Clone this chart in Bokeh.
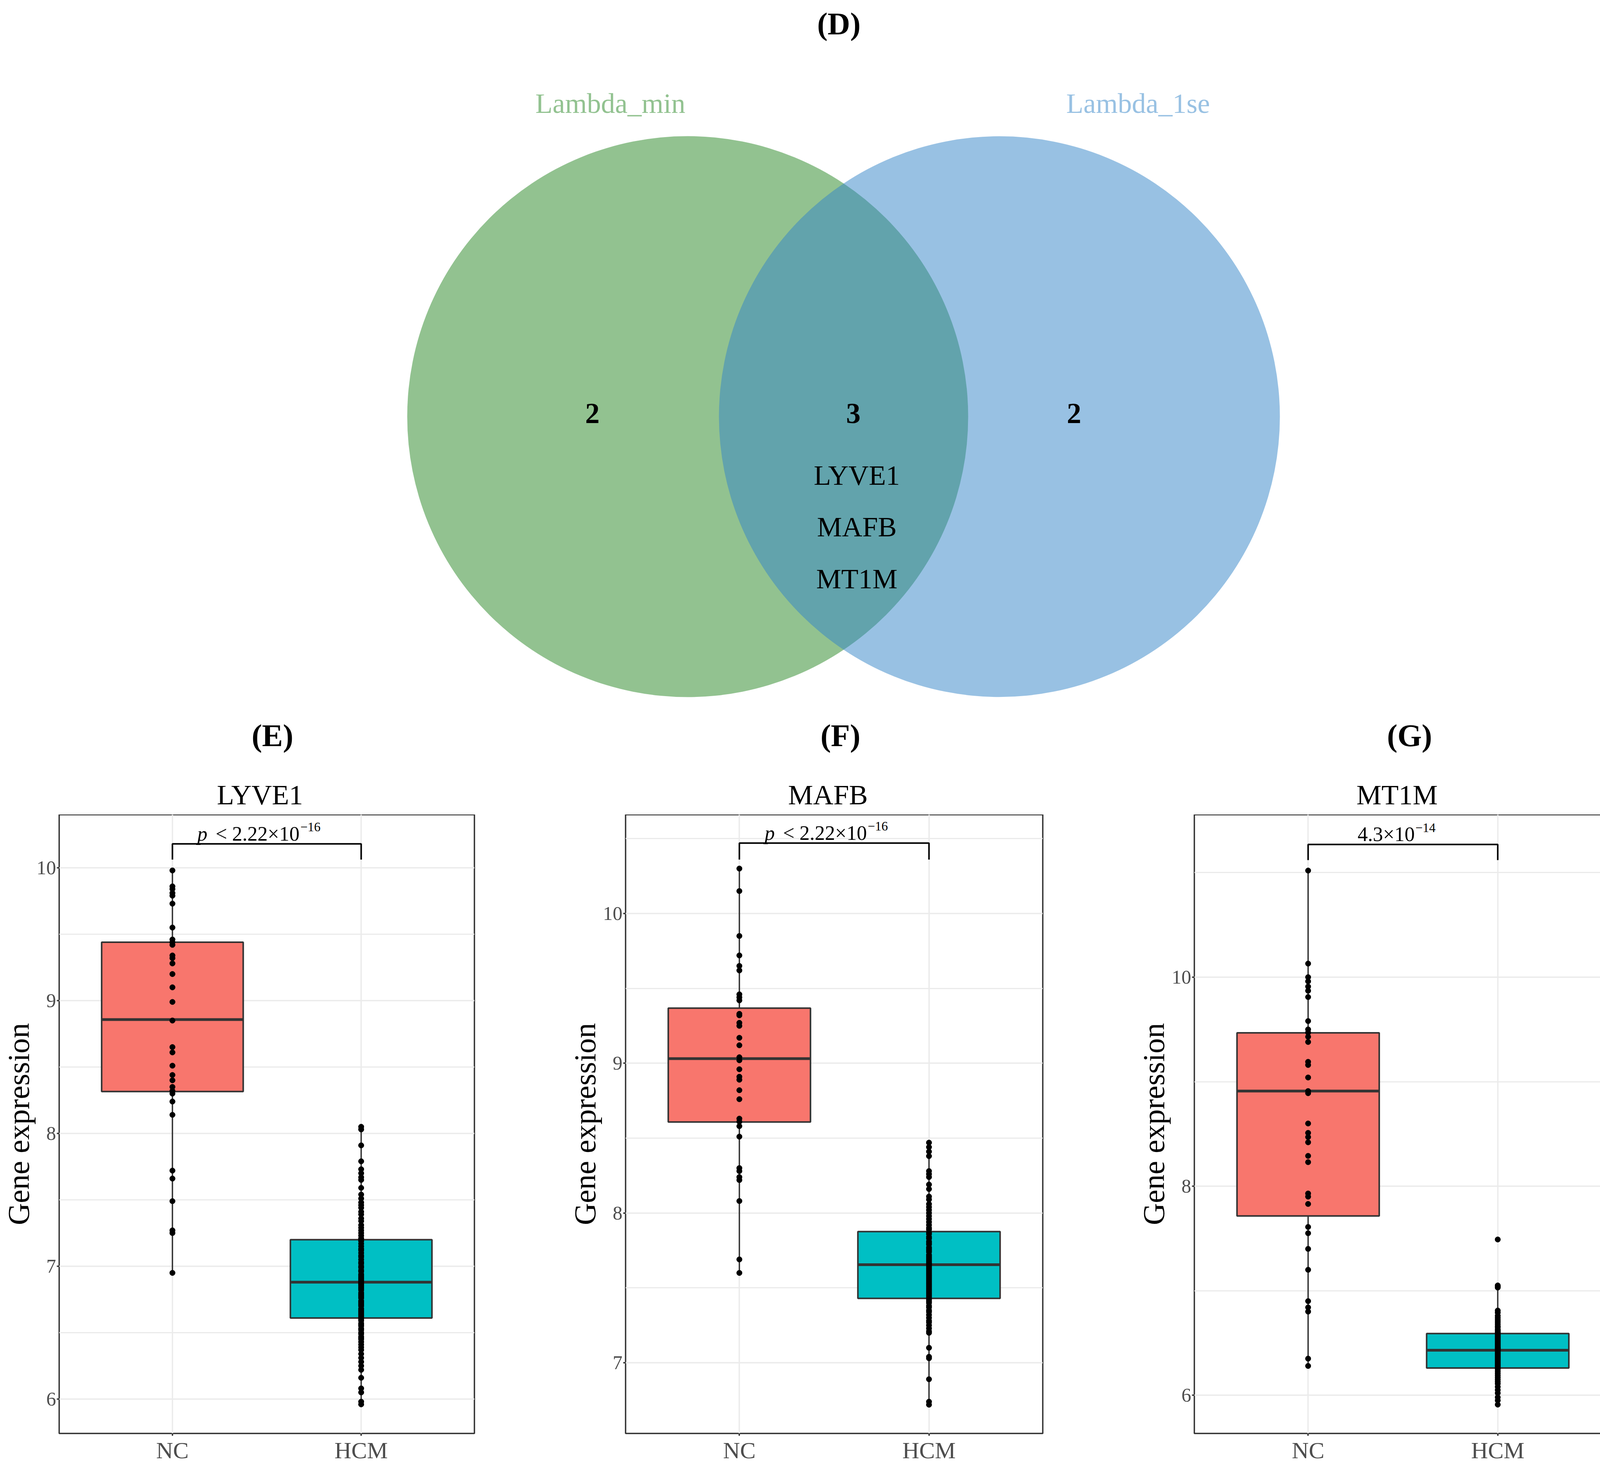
from bokeh.plotting import figure
from bokeh.layouts import column, row
from bokeh.models import Range1d, FixedTicker, Label
from bokeh.core.properties import value
from bokeh.embed import file_html
from bokeh.resources import INLINE

FONT = "Liberation Serif"

# ---------------- Venn data ----------------
set_names = ["Lambda_min", "Lambda_1se"]
set_colors = ["#258521", "#3183C7"]
region_counts = [2, 3, 2]          # only min, shared, only 1se
shared_genes = ["LYVE1", "MAFB", "MT1M"]
panel_labels = ["(E)", "(F)", "(G)"]

# ---------------- Box plot data ----------------
groups = ["NC", "HCM"]
box_colors = ["#F8766D", "#00BFC4"]

lyve1_nc = [9.98, 9.86, 9.84, 9.81, 9.79, 9.73, 9.55, 9.46, 9.44, 9.42, 9.34, 9.32, 9.28,
            9.20, 9.10, 8.99, 8.85, 8.65, 8.61, 8.51, 8.44, 8.40, 8.35, 8.32, 8.30, 8.24,
            8.14, 7.72, 7.66, 7.49, 7.27, 7.25, 6.95]
lyve1_hcm = [8.05, 8.03, 7.91, 7.79, 7.73, 7.70, 7.67, 7.65, 7.59, 7.54, 7.51, 7.48, 7.46,
             7.44, 7.41, 7.39, 7.36, 7.34, 7.31, 7.29, 7.27, 7.25, 7.23, 7.21, 7.20, 7.19,
             7.17, 7.15, 7.13, 7.12, 7.10, 7.08, 7.07, 7.05, 7.03, 7.02, 7.00, 6.99, 6.97,
             6.96, 6.94, 6.93, 6.92, 6.91, 6.90, 6.89, 6.88, 6.87, 6.87, 6.86, 6.85, 6.84,
             6.83, 6.82, 6.80, 6.79, 6.78, 6.77, 6.76, 6.74, 6.73, 6.72, 6.71, 6.70, 6.68,
             6.67, 6.66, 6.65, 6.64, 6.63, 6.62, 6.61, 6.60, 6.59, 6.57, 6.56, 6.55, 6.53,
             6.52, 6.50, 6.49, 6.47, 6.46, 6.45, 6.43, 6.41, 6.39, 6.37, 6.34, 6.31, 6.28,
             6.25, 6.22, 6.16, 6.08, 6.05, 5.98, 5.96]
lyve1_lo = [6.95, 5.97]
lyve1_q1 = [8.315, 6.61]
lyve1_med = [8.857, 6.88]
lyve1_q3 = [9.44, 7.20]
lyve1_hi = [9.98, 8.04]

mafb_nc = [10.30, 10.15, 9.85, 9.72, 9.65, 9.62, 9.46, 9.44, 9.42, 9.33, 9.32, 9.27, 9.25,
           9.17, 9.12, 9.04, 9.02, 8.96, 8.91, 8.89, 8.82, 8.76, 8.63, 8.61, 8.58, 8.51,
           8.30, 8.28, 8.24, 8.22, 8.08, 7.69, 7.60]
mafb_hcm = [8.47, 8.44, 8.41, 8.38, 8.28, 8.26, 8.24, 8.19, 8.16, 8.11, 8.09, 8.06, 8.04,
            8.02, 8.00, 7.98, 7.96, 7.94, 7.92, 7.90, 7.89, 7.87, 7.86, 7.84, 7.83, 7.81,
            7.80, 7.79, 7.77, 7.76, 7.75, 7.74, 7.72, 7.71, 7.70, 7.69, 7.68, 7.67, 7.66,
            7.66, 7.65, 7.64, 7.63, 7.62, 7.61, 7.60, 7.59, 7.58, 7.57, 7.56, 7.55, 7.54,
            7.53, 7.52, 7.51, 7.50, 7.49, 7.48, 7.47, 7.46, 7.45, 7.44, 7.43, 7.42, 7.41,
            7.40, 7.38, 7.37, 7.35, 7.34, 7.32, 7.30, 7.28, 7.27, 7.25, 7.23, 7.21, 7.20,
            7.10, 7.04, 7.03, 6.89, 6.74, 6.72]
mafb_lo = [7.60, 6.73]
mafb_q1 = [8.608, 7.43]
mafb_med = [9.031, 7.655]
mafb_q3 = [9.368, 7.876]
mafb_hi = [10.295, 8.47]

mt1m_nc = [11.02, 10.13, 10.00, 9.96, 9.91, 9.87, 9.81, 9.58, 9.50, 9.47, 9.43, 9.38, 9.19,
           9.16, 9.04, 8.91, 8.89, 8.60, 8.51, 8.47, 8.42, 8.29, 8.23, 7.93, 7.90, 7.83,
           7.61, 7.55, 7.40, 7.20, 6.90, 6.84, 6.80, 6.35, 6.28]
mt1m_hcm = [7.49, 7.05, 7.04, 7.03, 6.81, 6.79, 6.76, 6.74, 6.72, 6.70, 6.68, 6.66, 6.65,
            6.63, 6.62, 6.61, 6.60, 6.59, 6.58, 6.57, 6.56, 6.55, 6.54, 6.53, 6.52, 6.51,
            6.50, 6.49, 6.48, 6.47, 6.46, 6.45, 6.45, 6.44, 6.43, 6.43, 6.42, 6.41, 6.40,
            6.39, 6.38, 6.37, 6.36, 6.35, 6.34, 6.33, 6.32, 6.31, 6.30, 6.29, 6.28, 6.27,
            6.26, 6.25, 6.23, 6.21, 6.19, 6.17, 6.15, 6.13, 6.11, 6.08, 6.05, 6.02, 5.98,
            5.95, 5.91]
mt1m_lo = [6.28, 5.91]
mt1m_q1 = [7.715, 6.26]
mt1m_med = [8.91, 6.43]
mt1m_q3 = [9.467, 6.59]
mt1m_hi = [11.02, 7.05]

p_base = ["< 2.22×10", "< 2.22×10", "4.3×10"]
p_exp = ["−16", "−16", "−14"]

# ---------------- Top figure: Venn + panel headers (pixel space) ----------------
W = 4141
VH = 2085
v = figure(width=W, height=VH, x_range=Range1d(0, W), y_range=Range1d(VH, 0),
           output_backend="svg", toolbar_location=None, min_border=0, title_location=None,
           x_axis_location=None, y_axis_location=None)
v.grid.visible = False
v.outline_line_color = None
R = 718
cx = [1760, 2558]
cy = 1066
for i in range(2):
    v.ellipse(x=[cx[i]], y=[cy], width=2 * R, height=2 * R,
              fill_color=set_colors[i], fill_alpha=0.5, line_color=None)
v.text(x=[1562, 2913], y=[264, 264], text=set_names, text_color=set_colors, text_alpha=0.5,
       text_font=value(FONT), text_font_size="72px", text_align="center", text_baseline="middle")
v.text(x=[1516, 2184, 2749], y=[1058] * 3, text=[str(c) for c in region_counts],
       text_font=value(FONT), text_font_size="74px", text_font_style="bold",
       text_align="center", text_baseline="middle", text_color="black")
v.text(x=[2193] * 3, y=[1216, 1348, 1481], text=shared_genes, text_font=value(FONT),
       text_font_size="72px", text_align="center", text_baseline="middle", text_color="black")
v.text(x=[2147], y=[60], text=["(D)"], text_font=value(FONT), text_font_size="80px",
       text_font_style="bold", text_align="center", text_baseline="middle", text_color="black")
# panel headers
v.text(x=[697, 2151, 3608], y=[1882] * 3, text=panel_labels, text_font=value(FONT),
       text_font_size="80px", text_font_style="bold", text_align="center",
       text_baseline="middle", text_color="black")
v.text(x=[665, 2119, 3576], y=[2034] * 3, text=shared_genes, text_font=value(FONT),
       text_font_size="72px", text_align="center", text_baseline="middle", text_color="black")

FH = 1584  # frame height in px


def box_panel(nc, hcm, lo, q1, med, q3, hi, yr, ticks, minor, bracket, base, exp,
              italic_p, lb, rb):
    fw = 1068
    p = figure(width=lb + fw + rb, height=1680, x_range=Range1d(0.4, 2.6), y_range=Range1d(*yr),
               output_backend="svg", toolbar_location=None, title_location=None,
               min_border_left=lb, min_border_right=rb, min_border_top=0, min_border_bottom=96)
    p.outline_line_color = "#333333"
    p.outline_line_width = 3.5
    p.xaxis.ticker = FixedTicker(ticks=[1, 2])
    p.xaxis.major_label_overrides = {1: groups[0], 2: groups[1]}
    p.yaxis.ticker = FixedTicker(ticks=ticks, minor_ticks=minor)
    for ax in (p.xaxis, p.yaxis):
        ax.axis_line_color = None
        ax.major_tick_line_color = "#333333"
        ax.major_tick_line_width = 3.5
        ax.major_tick_out = 6
        ax.major_tick_in = 0
        ax.minor_tick_line_color = None
        ax.major_label_text_font = FONT
        ax.major_label_text_color = "#4d4d4d"
    p.yaxis.major_label_text_font_size = "50px"
    p.yaxis.major_label_standoff = 2
    p.xaxis.major_label_text_font_size = "60px"
    p.xaxis.major_label_standoff = 4
    p.yaxis.axis_label = "Gene expression"
    p.yaxis.axis_label_text_font = FONT
    p.yaxis.axis_label_text_font_size = "78px"
    p.yaxis.axis_label_text_font_style = "normal"
    p.yaxis.axis_label_text_color = "black"
    p.yaxis.axis_label_standoff = 0
    p.xgrid.grid_line_color = "#ebebeb"
    p.xgrid.grid_line_width = 3.5
    p.ygrid.grid_line_color = "#ebebeb"
    p.ygrid.grid_line_width = 3.5
    p.ygrid.minor_grid_line_color = "#ebebeb"
    p.ygrid.minor_grid_line_width = 3
    xs = [1, 2]
    p.segment(x0=xs, y0=lo, x1=xs, y1=hi, line_color="#333333", line_width=3.5)
    p.vbar(x=xs, width=0.75, bottom=q1, top=q3, fill_color=box_colors,
           line_color="#333333", line_width=4)
    p.segment(x0=[x - 0.375 for x in xs], y0=med, x1=[x + 0.375 for x in xs], y1=med,
              line_color="#333333", line_width=7)
    p.scatter(x=[1] * len(nc), y=nc, size=14, color="black")
    p.scatter(x=[2] * len(hcm), y=hcm, size=14, color="black")
    by, bt = bracket
    p.line(x=[1, 1, 2, 2], y=[bt, by, by, bt], line_color="black", line_width=4)
    ppu = FH / (yr[1] - yr[0])          # pixels per data unit
    y_base = by + 26 / ppu
    y_sup = by + 43 / ppu
    common = dict(text_font=FONT, text_align="left", text_baseline="alphabetic",
                  text_color="black")
    items = []
    if italic_p:
        items.append(Label(x=1.5, y=y_base, text="p", x_offset=-178, text_font_size="52px",
                           text_font_style="italic", **common))
        items.append(Label(x=1.5, y=y_base, text=base, x_offset=-131, text_font_size="52px",
                           **common))
        items.append(Label(x=1.5, y=y_sup, text=exp, x_offset=86, text_font_size="33px",
                           **common))
    else:
        items.append(Label(x=1.5, y=y_base, text=base, x_offset=-116, text_font_size="52px",
                           **common))
        items.append(Label(x=1.5, y=y_sup, text=exp, x_offset=32, text_font_size="33px",
                           **common))
    for it in items:
        p.add_layout(it)
    return p


pe = box_panel(lyve1_nc, lyve1_hcm, lyve1_lo, lyve1_q1, lyve1_med, lyve1_q3, lyve1_hi,
               (5.741, 10.40), [6, 7, 8, 9, 10], [6.5, 7.5, 8.5, 9.5],
               (10.18, 10.062), p_base[0], p_exp[0], True, 146, 166)
pf = box_panel(mafb_nc, mafb_hcm, mafb_lo, mafb_q1, mafb_med, mafb_q3, mafb_hi,
               (6.528, 10.66), [7, 8, 9, 10], [7.5, 8.5, 9.5, 10.5],
               (10.47, 10.36), p_base[1], p_exp[1], True, 221, 91)
pg = box_panel(mt1m_nc, mt1m_hcm, mt1m_lo, mt1m_q1, mt1m_med, mt1m_q3, mt1m_hi,
               (5.634, 11.555), [6, 8, 10], [7, 9, 11],
               (11.27, 11.12), p_base[2], p_exp[2], False, 297, 16)

layout = column(v, row(pe, pf, pg))
open("out.html", "w").write(file_html(layout, INLINE))
